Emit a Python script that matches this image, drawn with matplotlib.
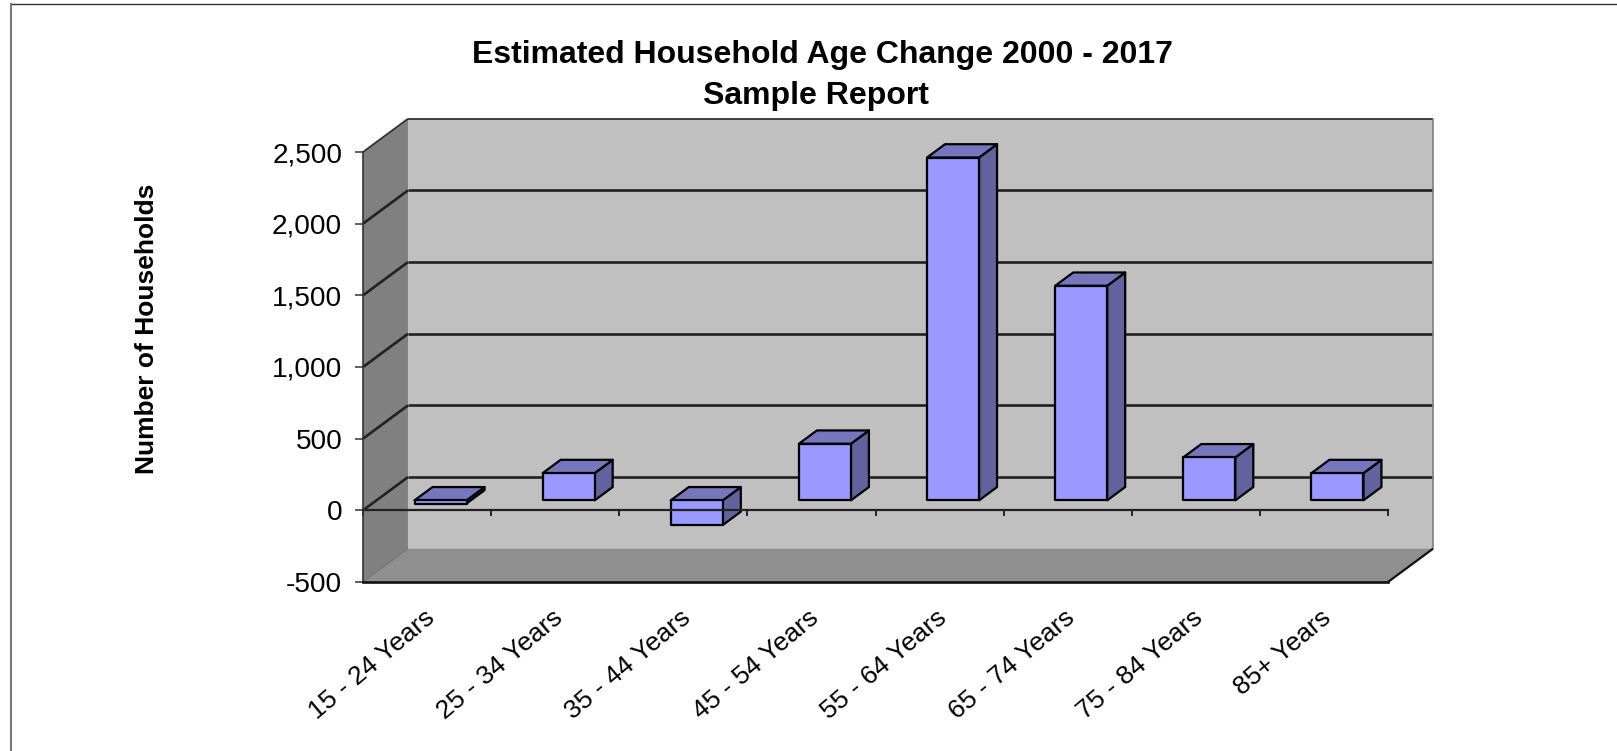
import matplotlib
matplotlib.use("Agg")
import matplotlib.pyplot as plt
from matplotlib.lines import Line2D
from matplotlib.transforms import ScaledTranslation

plt.rcParams["font.family"] = ["Liberation Sans", "DejaVu Sans"]

categories = ["15 - 24 Years", "25 - 34 Years", "35 - 44 Years", "45 - 54 Years",
              "55 - 64 Years", "65 - 74 Years", "75 - 84 Years", "85+ Years"]
values = [-22, 190, -172, 395, 2392, 1497, 300, 190]
y_ticks = [-500, 0, 500, 1000, 1500, 2000, 2500]

# oblique depth of the fake 3d box, in data units
DEPTH_X = 0.351
DEPTH_Y = 232
BAR_W = 0.406
BAR_Z0, BAR_Z1 = 0.3, 0.7


def proj(x, y, z):
    return x + z * DEPTH_X, y + z * DEPTH_Y


def face(ax, pts, color, zorder, edge="none", lw=0):
    xs = [p[0] for p in pts]
    ys = [p[1] for p in pts]
    ax.fill(xs, ys, facecolor=color, edgecolor=edge, linewidth=lw,
            zorder=zorder, clip_on=False, joinstyle="round")


def line3(ax, a, b, color="#222222", lw=1.9, zorder=2):
    ax.plot([a[0], b[0]], [a[1], b[1]], color=color, lw=lw, zorder=zorder,
            clip_on=False, solid_capstyle="butt")


fig = plt.figure(figsize=(16.17, 7.51), dpi=100)
ax = fig.add_axes([363 / 1617, (751 - 582) / 751, 1025 / 1617, 430 / 751])
ax.set_xlim(0, len(categories))
ax.set_ylim(y_ticks[0], y_ticks[-1])
ax.patch.set_visible(False)

n = len(categories)
lo, hi = y_ticks[0], y_ticks[-1]

# walls and floor
face(ax, [proj(0, lo, 1), proj(n, lo, 1), proj(n, hi, 1), proj(0, hi, 1)], "#c0c0c0", 1)
face(ax, [proj(0, lo, 0), proj(0, lo, 1), proj(0, hi, 1), proj(0, hi, 0)], "#808080", 1)
face(ax, [proj(0, lo, 0), proj(n, lo, 0), proj(n, lo, 1), proj(0, lo, 1)], "#8f8f8f", 1)

# gridlines, along the side wall and then the back wall
for v in y_ticks[1:-1]:
    line3(ax, proj(0, v, 0), proj(0, v, 1))
    line3(ax, proj(0, v, 1), proj(n, v, 1))
line3(ax, proj(0, hi, 0), proj(0, hi, 1), color="#333333", lw=1.3)
line3(ax, proj(0, hi, 1), proj(n, hi, 1), color="#333333", lw=1.3)
line3(ax, proj(n, lo, 1), proj(n, hi, 1), color="#808080", lw=1.2)
line3(ax, proj(0, lo, 0), proj(0, lo, 1), color="#707070", lw=0.7)
line3(ax, proj(n, lo, 0), proj(n, lo, 1), color="#111111", lw=1.6)

# bars
edge = "#000000"
for i, v in enumerate(values):
    x0 = i + 0.5 - BAR_W / 2
    x1 = i + 0.5 + BAR_W / 2
    top = max(v, 0)
    bot = min(v, 0)
    face(ax, [proj(x1, bot, BAR_Z0), proj(x1, bot, BAR_Z1), proj(x1, top, BAR_Z1), proj(x1, top, BAR_Z0)],
         "#62629f", 3, edge, 1.6)
    face(ax, [proj(x0, top, BAR_Z0), proj(x1, top, BAR_Z0), proj(x1, top, BAR_Z1), proj(x0, top, BAR_Z1)],
         "#7676bd", 3, edge, 1.6)
    face(ax, [proj(x0, bot, BAR_Z0), proj(x1, bot, BAR_Z0), proj(x1, top, BAR_Z0), proj(x0, top, BAR_Z0)],
         "#9999ff", 4, edge, 1.6)

# zero line with the category ticks hanging off it
ax.plot([0, n], [0, 0], color="#222222", lw=1.6, zorder=5, clip_on=False)
ax.vlines(range(n + 1), -40, 0, color="#222222", lw=1.4, zorder=5, clip_on=False)

for s in ["top", "right"]:
    ax.spines[s].set_visible(False)
ax.spines["bottom"].set_linewidth(1.9)
ax.spines["bottom"].set_color("#111111")
ax.spines["left"].set_linewidth(1.2)
ax.spines["left"].set_color("#333333")
ax.spines["bottom"].set_zorder(6)
ax.spines["left"].set_zorder(6)

ax.set_yticks(y_ticks)
ax.set_yticklabels([f"{v:,}" for v in y_ticks], fontsize=20.2)
ax.tick_params(axis="y", length=5.5, width=1.1, color="#333333", pad=9.5)
ax.set_xticks([i + 0.5 for i in range(n)])
ax.set_xticklabels(categories, fontsize=19, rotation=40, ha="right", rotation_mode="anchor")
ax.tick_params(axis="x", length=0, pad=17)
shift = ScaledTranslation(-2.5 / 72, 0, fig.dpi_scale_trans)
for lab in ax.get_xticklabels():
    lab.set_transform(lab.get_transform() + shift)

fig.text(822.5 / 1617, 1 - 55 / 751, "Estimated Household Age Change 2000 - 2017",
         fontsize=23, fontweight="bold", ha="center", va="center")
fig.text(816 / 1617, 1 - 96 / 751, "Sample Report",
         fontsize=23, fontweight="bold", ha="center", va="center")
fig.text(147 / 1617, 1 - 329 / 751, "Number of Households", rotation=90,
         fontsize=19, fontweight="bold", ha="center", va="center")

# outer chart frame, only top and left reach into the image
fig.add_artist(Line2D([10.5 / 1617, 1], [1 - 3.5 / 751, 1 - 3.5 / 751], color="#333333", lw=1.0))
fig.add_artist(Line2D([10.5 / 1617, 10.5 / 1617], [0, 1 - 3.5 / 751], color="#7a7a7a", lw=1.5))

fig.savefig("out.png", dpi=100)
